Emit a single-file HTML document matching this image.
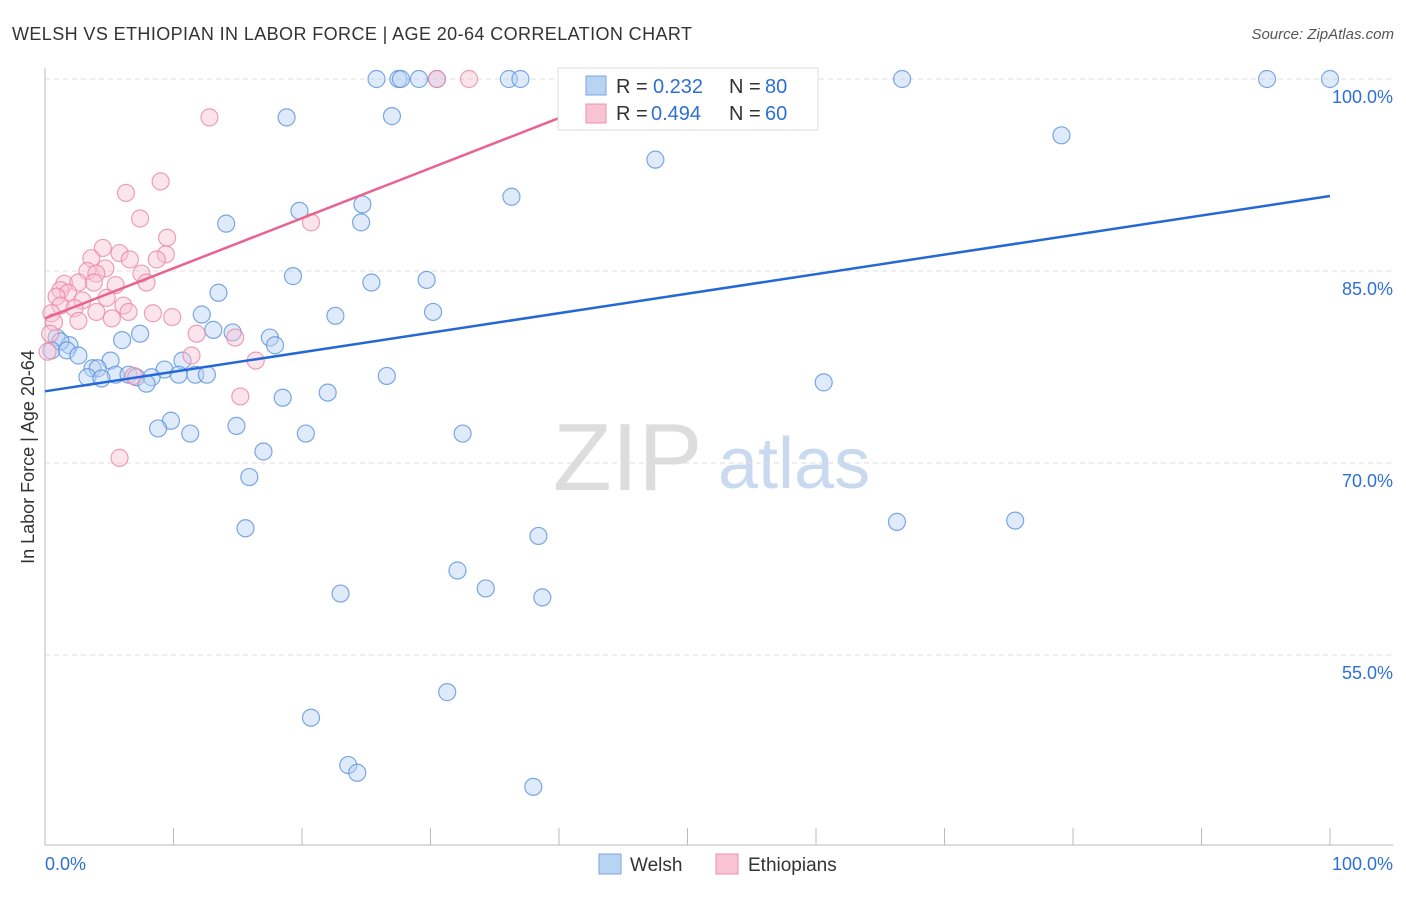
<!DOCTYPE html>
<html><head><meta charset="utf-8"><style>
body{margin:0;background:#fff;font-family:"Liberation Sans",sans-serif}
svg text{font-family:"Liberation Sans",sans-serif}
</style></head><body>
<svg id="chart" width="1406" height="892">
<text x="12" y="40" font-size="18" letter-spacing="0.4" fill="#333">WELSH VS ETHIOPIAN IN LABOR FORCE | AGE 20-64 CORRELATION CHART</text>
<text x="1394" y="39" font-size="15" fill="#555" text-anchor="end" font-style="italic">Source: ZipAtlas.com</text>
<g><text x="553" y="490" font-size="96" fill="#ddd" font-family="Liberation Serif,serif">ZIP</text><text x="718" y="488" font-size="72" fill="#c9daf0">atlas</text></g>
<g id="grid"></g>
<g id="axes"></g>
<g id="pts"></g>
<g id="lines"></g>
<text transform="translate(34,457) rotate(-90)" font-size="18" fill="#333" text-anchor="middle">In Labor Force | Age 20-64</text>
<g>
<rect x="558" y="68" width="260" height="62" fill="#fff" stroke="#ddd"/>
<rect x="586" y="76" width="20" height="19" fill="#b9d3f3" stroke="#7aa7e0"/>
<text x="616" y="93" font-size="20" fill="#333">R =</text>
<text x="653" y="93" font-size="20" fill="#2e6fd6">0.232</text>
<text x="729" y="93" font-size="20" fill="#333">N =</text>
<text x="765" y="93" font-size="20" fill="#2e6fd6">80</text>
<rect x="586" y="104" width="20" height="19" fill="#f8c3d3" stroke="#ee8fab"/>
<text x="616" y="120" font-size="20" fill="#333">R =</text>
<text x="651" y="120" font-size="20" fill="#2e6fd6">0.494</text>
<text x="729" y="120" font-size="20" fill="#333">N =</text>
<text x="765" y="120" font-size="20" fill="#2e6fd6">60</text>
</g>
<g>
<rect x="599" y="854" width="22" height="20" fill="#b9d3f3" stroke="#7aa7e0"/>
<text x="630" y="871" font-size="19" fill="#333">Welsh</text>
<rect x="716" y="854" width="22" height="20" fill="#f8c3d3" stroke="#ee8fab"/>
<text x="748" y="871" font-size="19" fill="#333">Ethiopians</text>
</g>
</svg>
<script>
const yTicks=[100,85,70,55];
const xTickLabels=["0.0%","100.0%"];
const welshX=[25.8,27.5,27.7,29.1,30.5,36.1,37.0,41.2,45.7,66.7,95.1,100,18.8,27.0,47.5,79.1,36.3,24.7,19.8,24.6,14.1,19.3,25.4,29.7,13.5,22.6,30.2,12.2,13.1,14.6,7.4,17.5,17.9,6.0,0.9,1.9,1.2,0.5,1.7,2.6,5.1,10.7,3.7,4.1,9.3,5.5,6.5,10.4,11.7,12.6,3.3,4.4,7.1,8.3,7.9,26.6,60.6,18.5,22.0,9.8,8.8,14.9,11.3,20.3,32.5,17.0,15.9,15.6,66.3,75.5,38.4,32.1,34.3,23.0,38.7,31.3,20.7,23.6,24.3,38.0];
const welshY=[100,100,100,100,100,100,100,100,100,100,100,100,97.0,97.1,93.7,95.6,90.8,90.2,89.7,88.8,88.7,84.6,84.1,84.3,83.3,81.5,81.8,81.6,80.4,80.2,80.1,79.8,79.2,79.6,79.8,79.2,79.5,78.8,78.8,78.4,78.0,78.0,77.4,77.4,77.3,76.9,76.9,76.9,76.9,76.9,76.7,76.6,76.7,76.7,76.2,76.8,76.3,75.1,75.5,73.3,72.7,72.9,72.3,72.3,72.3,70.9,68.9,64.9,65.4,65.5,64.3,61.6,60.2,59.8,59.5,52.1,50.1,46.4,45.8,44.7];
const ethX=[30.5,33.0,12.8,6.3,9.0,7.4,20.7,9.5,4.5,5.8,9.4,6.6,8.7,3.6,4.7,3.3,4.0,7.5,1.5,2.6,3.8,5.5,7.9,1.2,1.8,0.9,4.8,2.9,1.2,2.3,4.0,6.1,6.5,5.2,8.4,9.9,0.5,0.7,2.6,0.4,11.8,14.8,0.2,11.4,16.4,6.9,15.2,5.8];
const ethY=[100,100,97.0,91.1,92.0,89.1,88.8,87.6,86.8,86.4,86.3,85.9,85.9,86.0,85.2,85.0,84.8,84.8,84.0,84.1,84.1,83.9,84.1,83.5,83.3,83.0,82.9,82.7,82.3,82.1,81.8,82.3,81.8,81.3,81.7,81.4,81.7,81.0,81.1,80.1,80.1,79.8,78.7,78.4,78.0,76.8,75.2,70.4];
const welshLine=[75.6,90.86];
const ethLine=[81.3,96.95];
const ethLineEnd=40;
const X=v=>45+v*12.85, Y=v=>79+(100-v)*12.8;
const NS="http://www.w3.org/2000/svg";
function mk(t,a,p){const e=document.createElementNS(NS,t);for(const k in a)e.setAttribute(k,a[k]);p.appendChild(e);return e;}
const grid=document.getElementById('grid'),axes=document.getElementById('axes'),pts=document.getElementById('pts'),lines=document.getElementById('lines');
yTicks.forEach(t=>{
 const l=mk('line',{x1:45,x2:1393,y1:Y(t),y2:Y(t),stroke:'#ddd','stroke-dasharray':'5,4'},grid);
 
 
 const tx=mk('text',{x:1393,y:Y(t)+24,'font-size':18,fill:'#2e6fd6','text-anchor':'end'},grid);tx.textContent=t.toFixed(1)+'%';
 
 
});
const ax=mk('path',{d:'M45 68V845H1393',stroke:'#bbb',fill:'none'},axes);


for(let i=0;i<=10;i++){const t=mk('line',{x1:X(i*10),x2:X(i*10),y1:828,y2:845,stroke:'#bbb'},axes);
 
 }
[[45,'start',0],[1393,'end',1]].forEach(([x,a,i])=>{const t=mk('text',{x:x,y:870,'font-size':18,fill:'#2e6fd6','text-anchor':a},axes);t.textContent=xTickLabels[i];
 
 });
function dots(xs,ys,fill,stroke,name){xs.forEach((x,i)=>{const r=(x<0.3&&name==='welsh-point')?16:8.5;
 const c=mk('circle',{cx:X(xs[i]),cy:Y(ys[i]),r:r,fill:fill,'fill-opacity':0.45,stroke:stroke,'stroke-opacity':0.8,'stroke-width':1.2},pts);
 
 });}
dots(welshX,welshY,'#b9d3f3','#5b92dd','welsh-point');
dots(ethX,ethY,'#f8c3d3','#ec87a6','ethiopian-point');
const wl=mk('line',{x1:X(0),y1:Y(welshLine[0]),x2:X(100),y2:Y(welshLine[1]),stroke:'#2468d6','stroke-width':2.5},lines);


const el=mk('line',{x1:X(0),y1:Y(ethLine[0]),x2:X(ethLineEnd),y2:Y(ethLine[1]),stroke:'#e8648e','stroke-width':2.5},lines);


</script>
</body></html>
